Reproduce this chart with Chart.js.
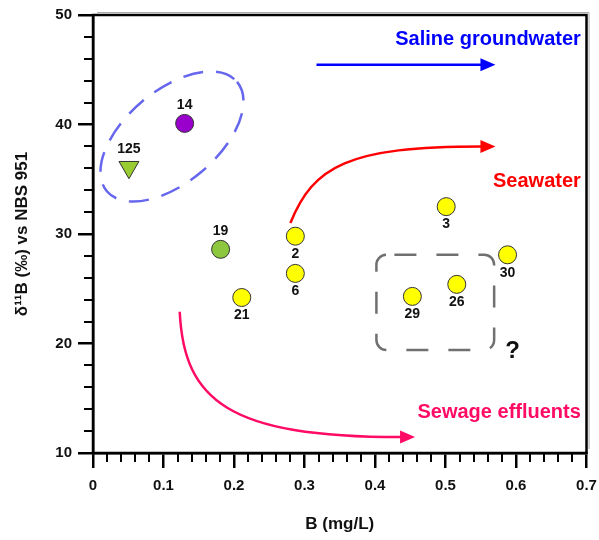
<!DOCTYPE html>
<html>
<head>
<meta charset="utf-8">
<script src="https://cdn.jsdelivr.net/npm/chart.js@4.4.1/dist/chart.umd.min.js"></script>
<style>
    html, body { margin: 0; padding: 0; background: #fff; }
    #wrap { width: 599px; height: 540px; }
</style>
</head>
<body>
<div id="wrap"><canvas id="boronChart" width="599" height="540"></canvas></div>
<script>
// Sample data: B concentration (mg/L) and delta 11B (per mil)
const purpleIds = ['14'];
const purpleB = [0.130];
const purpleDelta = [40.1];

const triangleIds = ['125'];
const triangleB = [0.051];
const triangleDelta = [36.1];

const greenIds = ['19'];
const greenB = [0.181];
const greenDelta = [28.6];

const yellowIds = ['2', '6', '21', '3', '30', '29', '26'];
const yellowB = [0.287, 0.287, 0.211, 0.501, 0.588, 0.453, 0.516];
const yellowDelta = [29.8, 26.4, 24.2, 32.5, 28.1, 24.3, 25.4];

// Axis ticks
const xTicks = [0, 0.1, 0.2, 0.3, 0.4, 0.5, 0.6, 0.7];
const yTicks = [10, 20, 30, 40, 50];

// Which sample labels sit above their marker (others go below)
const labelsAbove = ['14', '125', '19'];

const FONT = '"Liberation Sans", Arial, sans-serif';

function toPoints(xs, ys, ids) {
    return xs.map((x, i) => ({ x: x, y: ys[i], id: ids[i] }));
}

// Helper: data -> pixel
function px(chart, x, y) {
    return [chart.scales.x.getPixelForValue(x), chart.scales.y.getPixelForValue(y)];
}

function arrowHead(ctx, tipX, tipY, angle, len, half, color) {
    ctx.save();
    ctx.translate(tipX, tipY);
    ctx.rotate(angle);
    ctx.fillStyle = color;
    ctx.beginPath();
    ctx.moveTo(0, 0);
    ctx.lineTo(-len, -half);
    ctx.lineTo(-len, half);
    ctx.closePath();
    ctx.fill();
    ctx.restore();
}

function curveArrow(ctx, chart, pts, color) {
    const p = pts.map(q => px(chart, q[0], q[1]));
    ctx.save();
    ctx.strokeStyle = color;
    ctx.lineWidth = 2.5;
    ctx.beginPath();
    ctx.moveTo(p[0][0], p[0][1]);
    if (p.length === 2) {
        ctx.lineTo(p[1][0], p[1][1]);
    } else {
        ctx.bezierCurveTo(p[1][0], p[1][1], p[2][0], p[2][1], p[3][0], p[3][1]);
    }
    ctx.stroke();
    ctx.restore();
    const end = p[p.length - 1];
    arrowHead(ctx, end[0] + 14, end[1], 0, 15, 6.5, color);
}

const annotationPlugin = {
    id: 'annotations',
    afterDraw(chart) {
        const ctx = chart.ctx;
        const xs = chart.scales.x, ys = chart.scales.y;
        const area = chart.chartArea;

        // minor ticks
        ctx.save();
        ctx.strokeStyle = '#000';
        ctx.lineWidth = 2;
        for (let v = 0; v <= 0.7001; v += 0.02) {
            if (Math.abs(v * 10 - Math.round(v * 10)) < 1e-6) continue;
            const x = Math.round(xs.getPixelForValue(v));
            ctx.beginPath();
            ctx.moveTo(x, area.bottom);
            ctx.lineTo(x, area.bottom + 9);
            ctx.stroke();
        }
        for (let v = 10; v <= 50; v += 2) {
            if (v % 10 === 0) continue;
            const y = Math.round(ys.getPixelForValue(v));
            ctx.beginPath();
            ctx.moveTo(area.left, y);
            ctx.lineTo(area.left - 9, y);
            ctx.stroke();
        }
        // frame with a faint shadow on top / right
        ctx.strokeStyle = '#aaa';
        ctx.lineWidth = 1;
        ctx.beginPath();
        ctx.moveTo(area.left + 4, area.top - 2.5);
        ctx.lineTo(area.right + 2.5, area.top - 2.5);
        ctx.lineTo(area.right + 2.5, area.bottom - 4);
        ctx.stroke();
        ctx.strokeStyle = '#000';
        ctx.lineWidth = 2.5;
        ctx.strokeRect(area.left, area.top, area.right - area.left, area.bottom - area.top);
        ctx.restore();

        // dashed ellipse around 14 and 125
        ctx.save();
        const c = px(chart, 0.112, 38.9);
        ctx.translate(c[0], c[1]);
        ctx.rotate(-40 * Math.PI / 180);
        ctx.strokeStyle = '#6666ee';
        ctx.lineWidth = 2.5;
        ctx.setLineDash([20, 13]);
        ctx.beginPath();
        ctx.ellipse(0, 0, 85, 46, 0, 0, Math.PI * 2);
        ctx.stroke();
        ctx.restore();

        // dashed rounded box around 29 and 26
        ctx.save();
        const a = px(chart, 0.402, 28.1), b = px(chart, 0.569, 19.4);
        ctx.strokeStyle = '#707070';
        ctx.lineWidth = 2.5;
        ctx.setLineDash([22, 20]);
        ctx.lineDashOffset = -8;
        ctx.beginPath();
        ctx.roundRect(a[0], a[1], b[0] - a[0], b[1] - a[1], 10);
        ctx.stroke();
        ctx.restore();

        // arrows
        curveArrow(ctx, chart, [[0.317, 45.45], [0.551, 45.45]], '#0000ff');
        curveArrow(ctx, chart, [[0.280, 31.0], [0.3126, 36.2], [0.362, 38.0], [0.551, 38.0]], '#ff0000');
        curveArrow(ctx, chart, [[0.123, 22.9], [0.129, 14.8], [0.192, 11.45], [0.437, 11.45]], '#ff0a64');

        // annotation texts
        ctx.save();
        ctx.font = 'bold 20px ' + FONT;
        ctx.textAlign = 'right';
        ctx.textBaseline = 'middle';
        let t = px(chart, 0.692, 47.8);
        ctx.fillStyle = '#0000ff';
        ctx.fillText('Saline groundwater', t[0], t[1]);
        t = px(chart, 0.692, 34.8);
        ctx.fillStyle = '#ff0000';
        ctx.fillText('Seawater', t[0], t[1]);
        t = px(chart, 0.692, 13.7);
        ctx.fillStyle = '#ff0a64';
        ctx.fillText('Sewage effluents', t[0], t[1]);
        t = px(chart, 0.595, 19.3);
        ctx.fillStyle = '#111';
        ctx.font = 'bold 24px ' + FONT;
        ctx.textAlign = 'center';
        ctx.fillText('?', t[0], t[1]);
        ctx.restore();

        // sample labels
        ctx.save();
        ctx.font = 'bold 14px ' + FONT;
        ctx.fillStyle = '#111';
        ctx.textAlign = 'center';
        ctx.textBaseline = 'middle';
        chart.data.datasets.forEach((ds, i) => {
            const meta = chart.getDatasetMeta(i);
            meta.data.forEach((el, j) => {
                const id = ds.data[j].id;
                const dy = labelsAbove.includes(id) ? -18 : 18;
                ctx.fillText(id, el.x, el.y + dy);
            });
        });
        ctx.restore();
    }
};

const ctx = document.getElementById('boronChart').getContext('2d');
new Chart(ctx, {
    type: 'scatter',
    data: {
        datasets: [
            {
                label: 'Purple',
                data: toPoints(purpleB, purpleDelta, purpleIds),
                backgroundColor: '#9900cc',
                borderColor: '#333',
                borderWidth: 1,
                pointRadius: 9
            },
            {
                label: 'Triangle',
                data: toPoints(triangleB, triangleDelta, triangleIds),
                backgroundColor: '#99cc33',
                borderColor: '#333',
                borderWidth: 1,
                pointStyle: 'triangle',
                rotation: 180,
                pointRadius: 11.5
            },
            {
                label: 'Green',
                data: toPoints(greenB, greenDelta, greenIds),
                backgroundColor: '#8dc63f',
                borderColor: '#333',
                borderWidth: 1,
                pointRadius: 9
            },
            {
                label: 'Yellow',
                data: toPoints(yellowB, yellowDelta, yellowIds),
                backgroundColor: '#ffff00',
                borderColor: '#333',
                borderWidth: 1,
                pointRadius: 9
            }
        ]
    },
    options: {
        responsive: false,
        animation: false,
        layout: { padding: { left: 0, right: 10, top: 15, bottom: 0 } },
        plugins: {
            legend: { display: false },
            tooltip: { enabled: false }
        },
        scales: {
            x: {
                type: 'linear',
                min: 0,
                max: 0.7,
                afterFit: scale => {
                    scale.height = 87;
                    scale.paddingLeft = 0;
                    scale.paddingRight = 0;
                },
                afterBuildTicks: scale => { scale.ticks = xTicks.map(v => ({ value: v })); },
                border: { display: true, color: '#000', width: 2.5 },
                grid: { drawOnChartArea: false, color: '#000', lineWidth: 2.5, tickLength: 15 },
                ticks: {
                    padding: 9,
                    color: '#111',
                    font: { family: FONT, size: 15, weight: 'bold' },
                    callback: v => v === 0 ? '0' : String(v)
                },
                title: {
                    display: true,
                    text: 'B (mg/L)',
                    color: '#111',
                    font: { family: FONT, size: 17, weight: 'bold' },
                    padding: { top: 0, bottom: 5 }
                }
            },
            y: {
                type: 'linear',
                min: 10,
                max: 50,
                afterFit: scale => { scale.width = 93; },
                afterBuildTicks: scale => { scale.ticks = yTicks.map(v => ({ value: v })); },
                border: { display: true, color: '#000', width: 2.5 },
                grid: { drawOnChartArea: false, color: '#000', lineWidth: 2.5, tickLength: 15 },
                ticks: {
                    padding: 6,
                    color: '#111',
                    font: { family: FONT, size: 15, weight: 'bold' }
                },
                title: {
                    display: true,
                    text: 'δ¹¹B (‰) vs NBS 951',
                    color: '#111',
                    font: { family: FONT, size: 17, weight: 'bold' },
                    padding: { top: 12, bottom: 0 }
                }
            }
        }
    },
    plugins: [annotationPlugin]
});
</script>
</body>
</html>
